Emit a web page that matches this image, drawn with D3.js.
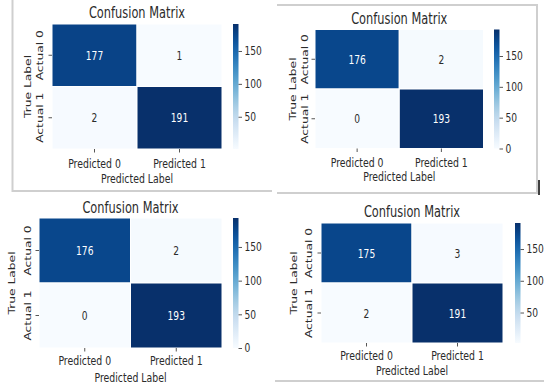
<!DOCTYPE html>
<html>
<head>
<meta charset="utf-8">
<script src="https://cdn.jsdelivr.net/npm/d3@7"></script>
<style>
html,body{margin:0;padding:0;background:#fff;}
svg{display:block;font-family:"DejaVu Sans",sans-serif;}
</style>
</head>
<body>
<svg id="chart" width="544" height="387"></svg>
<script>
// ---- data ----
const chartTitle = "Confusion Matrix";
const xCategories = ["Predicted 0", "Predicted 1"];
const yCategories = ["Actual 0", "Actual 1"];
const xAxisLabel = "Predicted Label";
const yAxisLabel = "True Label";
const matrixTopLeft = [[177, 1], [2, 191]];
const matrixTopRight = [[176, 2], [0, 193]];
const matrixBottomLeft = [[176, 2], [0, 193]];
const matrixBottomRight = [[175, 3], [2, 191]];
const colorbarTicksTopLeft = [50, 100, 150];
const colorbarTicksTopRight = [0, 50, 100, 150];
const colorbarTicksBottomLeft = [0, 50, 100, 150];
const colorbarTicksBottomRight = [50, 100, 150];

// ---- layout ----
const SX = 0.76; // horizontal squeeze of the screenshots
const panels = [
  {m: matrixTopLeft, ticks: colorbarTicksTopLeft, x0: 52, x1: 222, y0: 24, y1: 149, cb: 233, actOff: 12, trueOff: 24, tickOff: 19, labOff: 34, titleOff: 6},
  {m: matrixTopRight, ticks: colorbarTicksTopRight, x0: 315, x1: 483.5, y0: 29.5, y1: 148.5, cb: 494, actOff: 10, trueOff: 22, tickOff: 18, labOff: 32, titleOff: 6},
  {m: matrixBottomLeft, ticks: colorbarTicksBottomLeft, x0: 39, x1: 222, y0: 218, y1: 348, cb: 233, actOff: 11, trueOff: 27, tickOff: 17, labOff: 34, titleOff: 5},
  {m: matrixBottomRight, ticks: colorbarTicksBottomRight, x0: 321, x1: 503, y0: 223, y1: 343, cb: 515, actOff: 12, trueOff: 27, tickOff: 17, labOff: 32, titleOff: 6}
];
const textColor = "#2b2b2b";

const svg = d3.select("#chart");
const defs = svg.append("defs");

// frame lines from the screenshot collage
const frame = svg.append("g").attr("stroke", "#cfcfcf").attr("stroke-width", 2).attr("fill", "none");
frame.append("path").attr("d", "M12.5,0 V191 H272");
frame.append("path").attr("d", "M277,5 H537 V193 H277");
frame.append("path").attr("d", "M275,381 H544");
svg.append("line").attr("x1", 539).attr("x2", 539).attr("y1", 180).attr("y2", 195)
  .attr("stroke", "#000").attr("stroke-width", 1.5);

function hText(g, x, y, str, size, color) {
  return g.append("text")
    .attr("transform", `translate(${x},${y}) scale(${SX},1)`)
    .attr("text-anchor", "middle")
    .attr("font-size", size)
    .attr("fill", color || textColor)
    .text(str);
}
function vText(g, x, y, str, size) {
  return g.append("text")
    .attr("transform", `translate(${x},${y}) rotate(-90) scale(1,${SX})`)
    .attr("text-anchor", "middle")
    .attr("dominant-baseline", "central")
    .attr("font-size", size)
    .attr("fill", textColor)
    .text(str);
}

panels.forEach((p, pi) => {
  const g = svg.append("g");
  const flat = p.m.flat();
  const vmin = d3.min(flat), vmax = d3.max(flat);
  const color = d3.scaleSequential(d3.interpolateBlues).domain([vmin, vmax]);

  const x = d3.scaleBand().domain(xCategories).range([p.x0, p.x1]);
  const y = d3.scaleBand().domain(yCategories).range([p.y0, p.y1]);

  const cells = [];
  yCategories.forEach((r, i) => xCategories.forEach((c, j) => cells.push({r, c, v: p.m[i][j]})));

  g.selectAll("rect.cell").data(cells).join("rect")
    .attr("class", "cell")
    .attr("x", d => x(d.c)).attr("y", d => y(d.r))
    .attr("width", x.bandwidth()).attr("height", y.bandwidth())
    .attr("fill", d => color(d.v))
    .attr("stroke", "#fff").attr("stroke-width", 1);

  cells.forEach(d => {
    const t = (d.v - vmin) / (vmax - vmin);
    hText(g, x(d.c) + x.bandwidth() / 2, y(d.r) + y.bandwidth() / 2 + 4.5, String(d.v), 12, t > 0.5 ? "#fff" : textColor);
  });

  // x ticks
  xCategories.forEach(c => {
    const cx = x(c) + x.bandwidth() / 2;
    g.append("line").attr("x1", cx).attr("x2", cx).attr("y1", p.y1).attr("y2", p.y1 + 3.5)
      .attr("stroke", textColor).attr("stroke-width", 0.8);
    hText(g, cx, p.y1 + p.tickOff, c, 12.3);
  });
  // y ticks
  yCategories.forEach(r => {
    const cy = y(r) + y.bandwidth() / 2;
    g.append("line").attr("x1", p.x0 - 3.5).attr("x2", p.x0).attr("y1", cy).attr("y2", cy)
      .attr("stroke", textColor).attr("stroke-width", 0.8);
    vText(g, p.x0 - p.actOff, cy, r, 12.3);
  });

  hText(g, (p.x0 + p.x1) / 2, p.y1 + p.labOff, xAxisLabel, 12.3);
  vText(g, p.x0 - p.trueOff, (p.y0 + p.y1) / 2, yAxisLabel, 12.3);
  hText(g, (p.x0 + p.x1) / 2, p.y0 - p.titleOff, chartTitle, 15);

  // colorbar
  const gid = "cbgrad" + pi;
  const grad = defs.append("linearGradient").attr("id", gid)
    .attr("x1", 0).attr("x2", 0).attr("y1", 1).attr("y2", 0);
  d3.range(0, 1.0001, 0.05).forEach(t => {
    grad.append("stop").attr("offset", t).attr("stop-color", d3.interpolateBlues(t));
  });
  g.append("rect").attr("x", p.cb).attr("y", p.y0).attr("width", 5.5).attr("height", p.y1 - p.y0)
    .attr("fill", `url(#${gid})`);
  const cbScale = d3.scaleLinear().domain([vmin, vmax]).range([p.y1, p.y0]);
  const ax = g.append("g").attr("transform", `translate(${p.cb + 5.5},0)`)
    .call(d3.axisRight(cbScale).tickValues(p.ticks).tickSize(3.5).tickPadding(2.5));
  ax.select(".domain").remove();
  ax.selectAll(".tick line").attr("stroke", textColor).attr("stroke-width", 0.8);
  ax.selectAll(".tick text")
    .attr("font-family", "DejaVu Sans, sans-serif")
    .attr("font-size", 12)
    .attr("fill", textColor)
    .attr("x", 6 / SX)
    .attr("transform", `scale(${SX},1)`);
});
</script>
</body>
</html>
